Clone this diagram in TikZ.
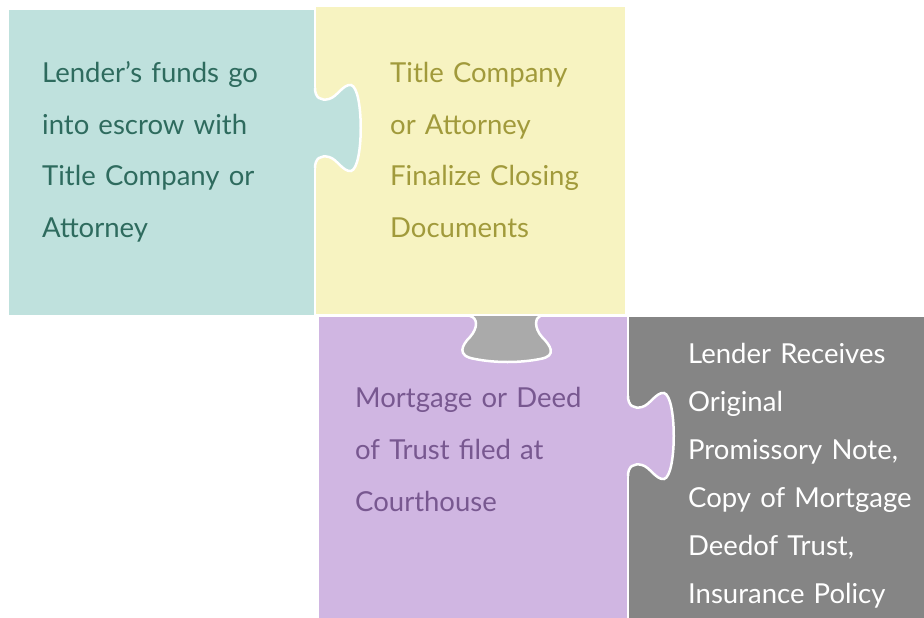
\documentclass[tikz,border=0pt]{standalone}
\usepackage{fontspec}
\setmainfont{Lato}
\definecolor{tealfill}{HTML}{BFE1DD}
\definecolor{tealtext}{HTML}{2E6B5E}
\definecolor{yellowfill}{HTML}{F7F3C1}
\definecolor{yellowtext}{HTML}{A19A3B}
\definecolor{purplefill}{HTML}{D0B6E2}
\definecolor{purpletext}{HTML}{785890}
\definecolor{grayfill}{HTML}{858585}
\definecolor{holefill}{HTML}{AAAAAA}
\tikzset{
	piecetext/.style={anchor=base west,inner sep=0,text width=280pt,align=left,
		font=\fontsize{27.5}{52}\selectfont},
	seam/.style={draw=white,line width=2.5pt}
}
% tab outline, mouth on x=0, sticking out to +x
\def\tabcurve{(0,-40) .. controls (0,-30) and (6,-27) .. (14,-29)
	.. controls (22,-31) and (28,-44) .. (36,-43)
	.. controls (49,-40) and (49,40) .. (36,43)
	.. controls (28,44) and (22,31) .. (14,29)
	.. controls (6,27) and (0,30) .. (0,40)}
\begin{document}
\begin{tikzpicture}[x=1pt,y=-1pt]
	\useasboundingbox (0,0) rectangle (924,618);

	% pieces
	\fill[tealfill] (9,10) rectangle (314,315);
	\fill[yellowfill] (316,7) rectangle (625,314);
	\fill[purplefill] (319,317) rectangle (627,618);
	\fill[grayfill] (629,317) rectangle (924,618);

	% tabs
	\begin{scope}[shift={(315,128)}]
		\fill[tealfill] (-4,-40) -- \tabcurve -- (-4,40) -- cycle;
		\draw[seam] \tabcurve;
	\end{scope}
	\begin{scope}[shift={(628,436)}]
		\fill[purplefill] (-4,-40) -- \tabcurve -- (-4,40) -- cycle;
		\draw[seam] \tabcurve;
	\end{scope}

	% hole at top of the purple piece
	\fill[holefill] (470,316) .. controls (478,318) and (478,328) .. (470,337)
		.. controls (462,345) and (456,356) .. (475,359)
		.. controls (495,363) and (520,363) .. (540,359)
		.. controls (558,356) and (550,345) .. (542,337)
		.. controls (534,328) and (535,318) .. (540,316) -- cycle;
	\draw[seam] (470,316) .. controls (478,318) and (478,328) .. (470,337)
		.. controls (462,345) and (456,356) .. (475,359)
		.. controls (495,363) and (520,363) .. (540,359)
		.. controls (558,356) and (550,345) .. (542,337)
		.. controls (534,328) and (535,318) .. (540,316);

	% texts
	\node[piecetext,text=tealtext] (escrow) at (42,82)
		{Lender’s funds go\\into escrow with\\Title Company or\\Attorney};
	\node[piecetext,text=yellowtext] (closing) at (390,82)
		{Title Company\\or Attorney\\Finalize Closing\\Documents};
	\node[piecetext,text=purpletext] (filed) at (355,407)
		{Mortgage or Deed\\of Trust filed at\\Courthouse};
	\node[piecetext,text=white,font=\fontsize{27.5}{48}\selectfont] (receives) at (688,363)
		{Lender Receives\\Original\\Promissory Note,\\Copy of Mortgage\\Deedof Trust,\\Insurance Policy};
\end{tikzpicture}
\end{document}
